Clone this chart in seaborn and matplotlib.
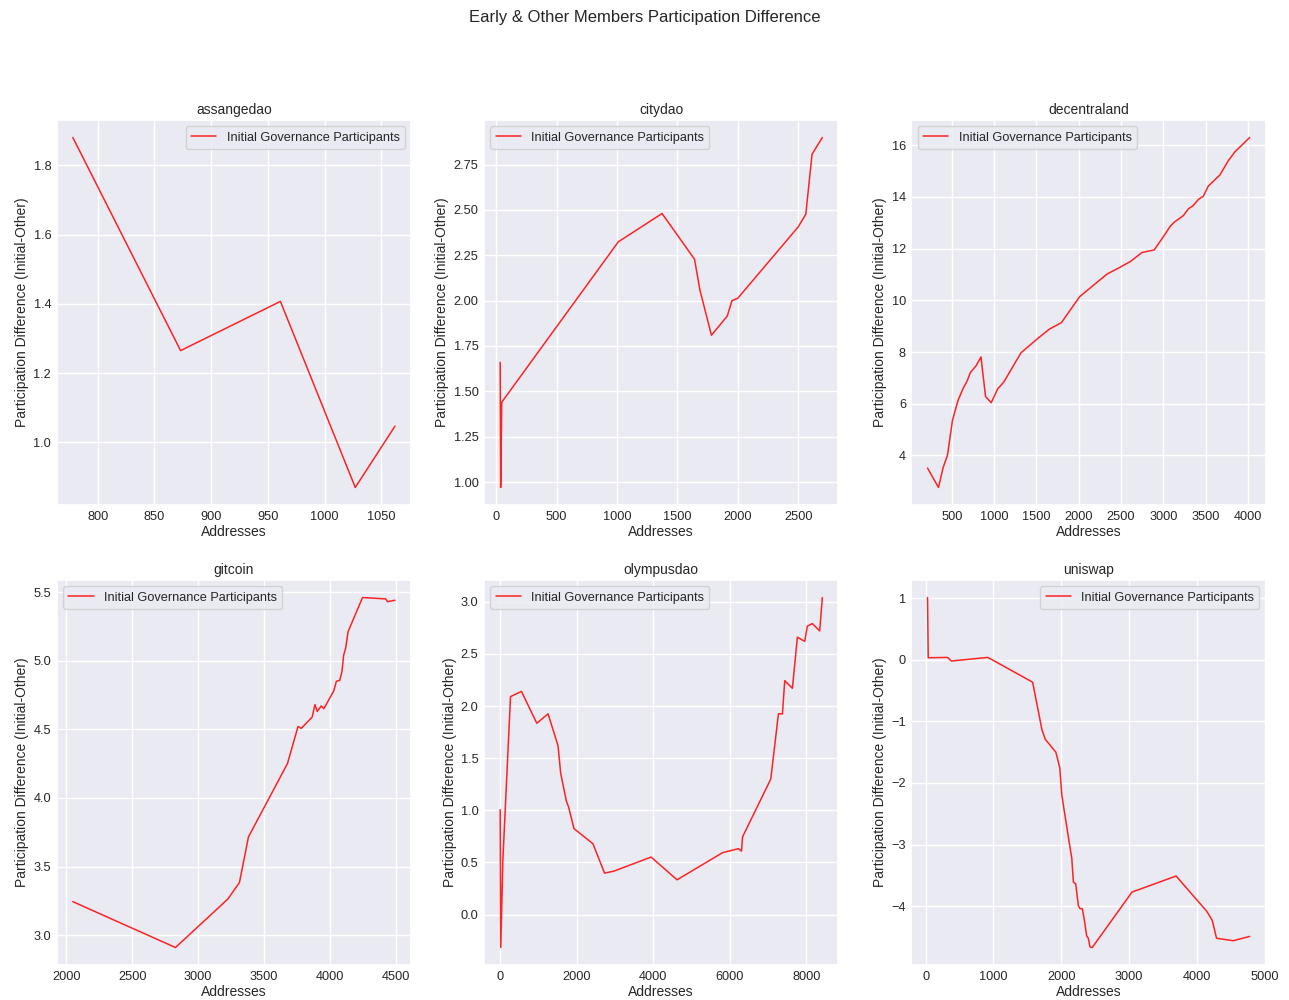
import matplotlib
matplotlib.use("Agg")
import matplotlib.pyplot as plt
from matplotlib.ticker import MultipleLocator
import seaborn as sns
import pandas as pd

daos = ["assangedao", "citydao", "decentraland", "gitcoin", "olympusdao", "uniswap"]

assangedao_x = [778, 873, 961, 1027, 1062]
assangedao_y = [1.88, 1.265, 1.407, 0.87, 1.047]

citydao_x = [33, 37, 41, 46, 1011, 1373, 1642, 1686, 1782, 1913, 1952, 2000, 2500, 2563, 2615, 2700]
citydao_y = [1.66, 0.97, 1.17, 1.44, 2.324, 2.48, 2.228, 2.06, 1.809, 1.915, 2.0, 2.013, 2.406, 2.476, 2.807, 2.899]

decentraland_x = [214, 343, 398, 449, 508, 574, 633, 684, 719, 790, 845, 899, 966, 1044, 1115,
                  1318, 1514, 1651, 1796, 2011, 2180, 2336, 2454, 2610, 2747, 2892, 3002, 3080,
                  3131, 3237, 3296, 3354, 3413, 3472, 3531, 3668, 3765, 3844, 4020]
decentraland_y = [3.51, 2.76, 3.53, 4.0, 5.35, 6.13, 6.58, 6.9, 7.2, 7.48, 7.81, 6.28, 6.04, 6.58, 6.84,
                  7.97, 8.52, 8.88, 9.14, 10.14, 10.6, 11.02, 11.22, 11.5, 11.85, 11.95, 12.47, 12.86,
                  13.03, 13.28, 13.54, 13.67, 13.9, 14.03, 14.42, 14.85, 15.39, 15.74, 16.3]

gitcoin_x = [2050, 2828, 3225, 3313, 3381, 3677, 3757, 3782, 3865, 3885, 3903, 3933, 3953, 4028,
             4048, 4073, 4090, 4103, 4118, 4136, 4246, 4422, 4435, 4492]
gitcoin_y = [3.244, 2.91, 3.263, 3.383, 3.715, 4.25, 4.52, 4.507, 4.59, 4.68, 4.63, 4.67, 4.65, 4.78,
             4.85, 4.856, 4.92, 5.04, 5.09, 5.21, 5.46, 5.45, 5.43, 5.44]

olympusdao_x = [0, 15, 70, 270, 556, 956, 1251, 1511, 1581, 1728, 1789, 1928, 2423, 2727, 2970,
                3943, 4621, 5810, 6219, 6306, 6332, 7070, 7270, 7374, 7435, 7635, 7765, 7956,
                8026, 8157, 8348, 8417]
olympusdao_y = [1.006, -0.315, 0.52, 2.09, 2.14, 1.835, 1.925, 1.62, 1.354, 1.09, 1.03, 0.825, 0.68,
                0.398, 0.417, 0.552, 0.334, 0.594, 0.632, 0.61, 0.745, 1.3, 1.925, 1.925, 2.243,
                2.17, 2.66, 2.62, 2.766, 2.79, 2.72, 3.04]

uniswap_x = [29, 39, 323, 381, 919, 1579, 1716, 1765, 1921, 1945, 1980, 2009, 2117, 2156, 2180,
             2214, 2253, 2278, 2312, 2351, 2375, 2400, 2424, 2458, 3045, 3695, 4145, 4228, 4291,
             4536, 4780]
uniswap_y = [1.01, 0.033, 0.038, -0.02, 0.038, -0.364, -1.136, -1.29, -1.5, -1.6, -1.76, -2.196,
             -2.956, -3.217, -3.61, -3.636, -3.99, -4.04, -4.04, -4.29, -4.48, -4.52, -4.66, -4.67,
             -3.77, -3.51, -4.08, -4.23, -4.52, -4.56, -4.49]

series = {
    "assangedao": (assangedao_x, assangedao_y),
    "citydao": (citydao_x, citydao_y),
    "decentraland": (decentraland_x, decentraland_y),
    "gitcoin": (gitcoin_x, gitcoin_y),
    "olympusdao": (olympusdao_x, olympusdao_y),
    "uniswap": (uniswap_x, uniswap_y),
}
x_steps = {"assangedao": 50, "citydao": 500, "decentraland": 500,
           "gitcoin": 500, "olympusdao": 2000, "uniswap": 1000}

sns.set_theme(style="darkgrid")
plt.rcParams["font.family"] = ["Liberation Sans", "DejaVu Sans"]

fig, axes = plt.subplots(2, 3, figsize=(12.89, 10), dpi=100)
fig.subplots_adjust(left=0.044, right=0.982, top=0.88, bottom=0.035, wspace=0.206, hspace=0.195)

for ax, name in zip(axes.flat, daos):
    xs, ys = series[name]
    df = pd.DataFrame({"Addresses": xs, "diff": ys})
    sns.lineplot(data=df, x="Addresses", y="diff", ax=ax, color="red", alpha=0.85,
                 linewidth=1.1, label="Initial Governance Participants")
    ax.set_title(name, fontsize=10, pad=4)
    ax.set_xlabel("Addresses", fontsize=10, labelpad=2)
    ax.set_ylabel("Participation Difference (Initial-Other)", fontsize=10, labelpad=3)
    ax.tick_params(labelsize=9.2, length=0, pad=4)
    ax.xaxis.set_major_locator(MultipleLocator(x_steps[name]))
    ax.legend(loc="best", fontsize=9.2)

fig.suptitle("Early & Other Members Participation Difference", fontsize=12, y=0.99)
fig.savefig("out.png", dpi=100)
